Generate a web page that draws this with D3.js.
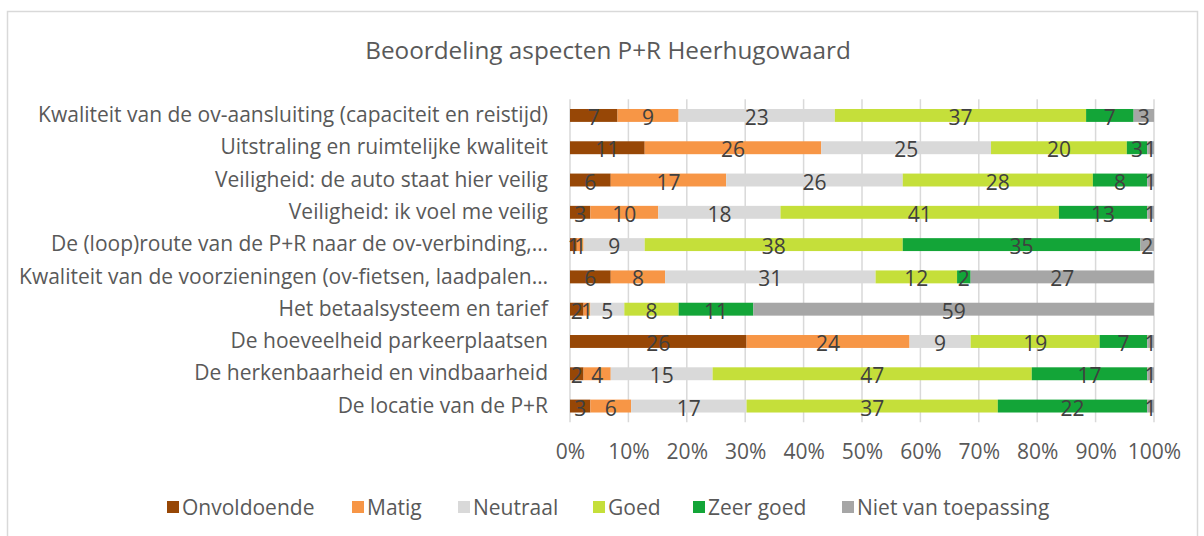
<!DOCTYPE html>
<html><head><meta charset="utf-8">
<script src="https://cdn.jsdelivr.net/npm/d3@7/dist/d3.min.js"></script>
<style>body{margin:0;background:#fff}svg{display:block}</style>
</head><body>
<svg id="c" width="1204" height="536"></svg>
<script>
const categories = [
  "Kwaliteit van de ov-aansluiting (capaciteit en reistijd)",
  "Uitstraling en ruimtelijke kwaliteit",
  "Veiligheid: de auto staat hier veilig",
  "Veiligheid: ik voel me veilig",
  "De (loop)route van de P+R naar de ov-verbinding,…",
  "Kwaliteit van de voorzieningen (ov-fietsen, laadpalen…",
  "Het betaalsysteem en tarief",
  "De hoeveelheid parkeerplaatsen",
  "De herkenbaarheid en vindbaarheid",
  "De locatie van de P+R"
];
const seriesNames = ["Onvoldoende","Matig","Neutraal","Goed","Zeer goed","Niet van toepassing"];
const onvoldoende = [7,11,6,3,1,6,2,26,2,3];
const matig       = [9,26,17,10,1,8,1,24,4,6];
const neutraal    = [23,25,26,18,9,31,5,9,15,17];
const goed        = [37,20,28,41,38,12,8,19,47,37];
const zeerGoed    = [7,3,8,13,35,2,11,7,17,22];
const nietVanToep = [3,1,1,1,2,27,59,1,1,1];
const tickLabels = ["0%","10%","20%","30%","40%","50%","60%","70%","80%","90%","100%"];
const colors = ["#974706","#F79646","#D9D9D9","#C5DF3A","#13A538","#A6A6A6"];
const seriesValues = [onvoldoende,matig,neutraal,goed,zeerGoed,nietVanToep];

const svg = d3.select("#c");
const font = "'Open Sans', sans-serif";
const fs = 21;

svg.append("rect").attr("x",7.5).attr("y",11.5).attr("width",1190).attr("height",530)
  .attr("fill","#fff").attr("stroke","#d9d9d9").attr("stroke-width",1.5);

svg.append("text").attr("x",608).attr("y",49).attr("text-anchor","middle").attr("dominant-baseline","central")
  .attr("font-family",font).attr("font-size",24.3).attr("fill","#595959")
  .text("Beoordeling aspecten P+R Heerhugowaard");

const x0 = 570, x1 = 1154, yTop = 99.3, yBot = 422.2;
const x = d3.scaleLinear().domain([0,1]).range([x0,x1]);
const y = d3.scaleBand().domain(categories).range([yTop,yBot]).paddingInner(0.6).paddingOuter(0.3);

// gridlines
const ticks = d3.range(0,11).map(i=>i/10);
svg.append("g").selectAll("line").data(ticks).join("line")
  .attr("x1",d=>x(d)).attr("x2",d=>x(d)).attr("y1",yTop).attr("y2",yBot)
  .attr("stroke","#d9d9d9").attr("stroke-width",1.5);

// stack data
const rows = categories.map((c,i)=>{
  const o = {cat:c};
  seriesNames.forEach((s,j)=>o[s]=seriesValues[j][i]);
  return o;
});
const stack = d3.stack().keys(seriesNames).offset(d3.stackOffsetExpand)(rows);

const g = svg.append("g");
stack.forEach((layer,j)=>{
  g.append("g").selectAll("rect").data(layer).join("rect")
    .attr("x",d=>x(d[0])).attr("width",d=>x(d[1])-x(d[0]))
    .attr("y",d=>y(d.data.cat)).attr("height",y.bandwidth())
    .attr("fill",colors[j]);
});
stack.forEach((layer,j)=>{
  g.append("g").selectAll("text").data(layer).join("text")
    .attr("x",d=>(x(d[0])+x(d[1]))/2).attr("y",d=>y(d.data.cat)+y.bandwidth()/2+1.5)
    .attr("text-anchor","middle").attr("dominant-baseline","central")
    .attr("font-family",font).attr("font-size",fs).attr("fill","#404040")
    .text(d=>d.data[seriesNames[j]]);
});

// y labels
const yAxis = d3.axisLeft(y).tickSize(0).tickPadding(22);
const ya = svg.append("g").attr("transform",`translate(${x0},0)`).call(yAxis);
ya.select(".domain").remove();
ya.selectAll("text").attr("font-family",font).attr("font-size",fs).attr("fill","#595959");

// x axis
const xAxis = d3.axisBottom(x).tickValues(ticks).tickFormat((d,i)=>tickLabels[i]).tickSize(0).tickPadding(22);
const xa = svg.append("g").attr("transform",`translate(0,${yBot})`).call(xAxis);
xa.select(".domain").remove();
xa.selectAll("text").attr("font-family",font).attr("font-size",fs).attr("fill","#595959");

// legend
const legX = [167,352,458,593,693,842];
const leg = svg.append("g");
seriesNames.forEach((s,j)=>{
  leg.append("rect").attr("x",legX[j]).attr("y",501).attr("width",12).attr("height",12).attr("fill",colors[j]);
  leg.append("text").attr("x",legX[j]+15).attr("y",507).attr("dominant-baseline","central")
    .attr("font-family",font).attr("font-size",fs).attr("fill","#595959").text(s);
});
</script>
</body></html>
